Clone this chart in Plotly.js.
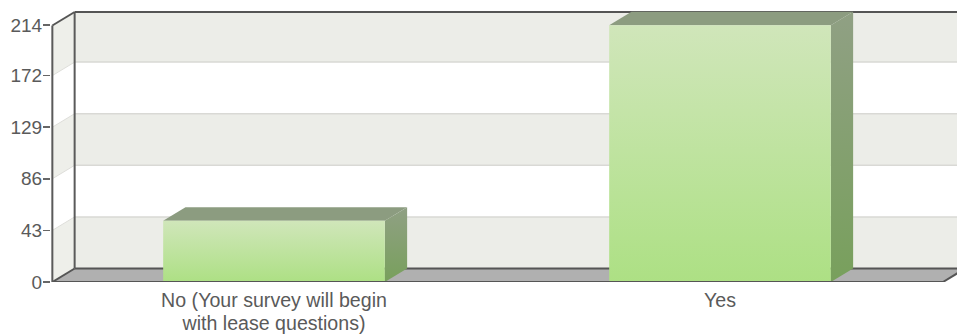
<!DOCTYPE html>
<html>
<head>
<meta charset="utf-8">
<script src="https://cdn.plot.ly/plotly-3.0.1.min.js"></script>
<style>html,body{margin:0;padding:0;background:#fff}#chart{width:957px;height:336px}</style>
</head>
<body>
<div id="chart"></div>
<script>
const categories = ['No (Your survey will begin<br>with lease questions)', 'Yes'];
const values = [51, 214];
const tickValues = [0, 43, 86, 129, 172, 214];
const bandStops = [0, 43, 86, 129, 172, 225];

// Pseudo-3D depth of the plot box and bars, in axis units
const depthX = 0.05;
const depthY = 11.25;
const barWidth = 0.497;
const xStart = -0.497;
const xEnd = 1.5;
const xMax = 1.5314;
const yMax = 228.333;
const wallTop = 225;
const axisTop = wallTop - depthY;

const poly = pts => 'M' + pts.map(p => p[0] + ',' + p[1]).join('L') + 'Z';
const fillShape = (pts, color) => ({
  type: 'path', xref: 'x', yref: 'y', layer: 'below',
  path: poly(pts), fillcolor: color, line: {width: 0}
});
const lineShape = (x0, y0, x1, y1, color, width, layer) => ({
  type: 'line', xref: 'x', yref: 'y', layer: layer || 'below',
  x0, y0, x1, y1, line: {color, width}
});

const shapes = [];
const wallLeft = xStart + depthX;

// Floor
shapes.push(fillShape([[xStart, 0], [xEnd, 0], [xEnd + depthX, depthY], [wallLeft, depthY]], '#b0b0b0'));

// Back wall and left wall, alternating bands from the bottom up
bandStops.slice(0, -1).forEach((lo, i) => {
  const hi = bandStops[i + 1];
  const topFront = Math.min(hi, axisTop);
  if (i % 2 === 0) {
    shapes.push(fillShape([[wallLeft, lo + depthY], [xMax, lo + depthY], [xMax, hi === 225 ? wallTop : hi + depthY], [wallLeft, hi === 225 ? wallTop : hi + depthY]], '#ecede8'));
    shapes.push(fillShape([[xStart, lo], [wallLeft, lo + depthY], [wallLeft, hi === 225 ? wallTop : hi + depthY], [xStart, topFront]], '#eeefea'));
  }
});
tickValues.slice(1, -1).forEach(v => {
  shapes.push(lineShape(wallLeft, v + depthY, xMax, v + depthY, '#d9d9d5', 1.5));
  shapes.push(lineShape(xStart, v, wallLeft, v + depthY, '#dededa', 1));
});

// Back edges of the box
shapes.push(lineShape(wallLeft, depthY, xMax, depthY, '#555555', 2));
shapes.push(lineShape(wallLeft, depthY, wallLeft, wallTop, '#5a5a5a', 2));
shapes.push(lineShape(wallLeft, wallTop, xMax, wallTop, '#555555', 2));

// Top and side faces of each bar; the front face is the bar trace itself
const sideIndexes = [];
values.forEach((v, i) => {
  const l = i - barWidth / 2, r = i + barWidth / 2;
  shapes.push(fillShape([[l, v], [r, v], [r + depthX, v + depthY], [l + depthX, v + depthY]], '#8c9c80'));
  sideIndexes.push(shapes.length);
  shapes.push(fillShape([[r, 0], [r + depthX, depthY], [r + depthX, v + depthY], [r, v]], '#84a070'));
});

// Front edges, drawn over the bars
shapes.push(lineShape(xStart, 0, xEnd, 0, '#555555', 2, 'above'));
shapes.push(lineShape(xEnd, 0, xEnd + depthX, depthY, '#555555', 2, 'above'));
shapes.push(lineShape(xStart, 0, wallLeft, depthY, '#555555', 2, 'above'));
shapes.push(lineShape(xStart, 0, xStart, axisTop, '#5a5a5a', 2, 'above'));
shapes.push(lineShape(xStart, axisTop, wallLeft, wallTop, '#555555', 2, 'above'));

const trace = {
  type: 'bar',
  x: categories.map((_, i) => i),
  y: values,
  width: barWidth,
  marker: {color: '#bfe3a0', line: {width: 0}},
  hoverinfo: 'skip'
};

const layout = {
  width: 957, height: 336,
  margin: {l: 51, r: 0, t: 8, b: 54, pad: 0},
  paper_bgcolor: '#fff', plot_bgcolor: 'rgba(0,0,0,0)',
  showlegend: false,
  font: {family: 'Liberation Sans, Arial, sans-serif', size: 13, color: '#5a5a5a'},
  xaxis: {
    type: 'linear', range: [-0.5, xMax], tickmode: 'array',
    tickvals: categories.map((_, i) => i), ticktext: categories,
    showgrid: false, zeroline: false, showline: false,
    ticks: '', ticklabelstandoff: 4, tickangle: 0,
    tickfont: {size: 19.6, color: '#5a5a5a'}
  },
  yaxis: {
    type: 'linear', range: [0, yMax], tickmode: 'array',
    tickvals: tickValues, ticktext: tickValues.map(String),
    showgrid: false, zeroline: false, showline: false,
    ticks: 'outside', ticklen: 7, tickwidth: 1.5, tickcolor: '#666666',
    tickfont: {size: 19, color: '#5a5a5a'}
  },
  shapes: shapes
};

// Vertical gradients for the faces that Plotly can only fill flat
function addGradient(svg, id, top, bottom) {
  const ns = 'http://www.w3.org/2000/svg';
  const defs = svg.querySelector('defs');
  const g = document.createElementNS(ns, 'linearGradient');
  g.setAttribute('id', id);
  g.setAttribute('x1', '0'); g.setAttribute('y1', '0');
  g.setAttribute('x2', '0'); g.setAttribute('y2', '1');
  [[0, top], [1, bottom]].forEach(([o, c]) => {
    const s = document.createElementNS(ns, 'stop');
    s.setAttribute('offset', o);
    s.setAttribute('stop-color', c);
    g.appendChild(s);
  });
  defs.appendChild(g);
}

const gd = document.getElementById('chart');
Plotly.newPlot(gd, [trace], layout, {displayModeBar: false, staticPlot: true}).then(() => {
  const svg = gd.querySelector('.main-svg');
  addGradient(svg, 'barFront', '#d0e6ba', '#ade084');
  addGradient(svg, 'barSide', '#90a084', '#78a05c');
  gd.querySelectorAll('.bars .point path').forEach(p => { p.style.fill = 'url(#barFront)'; });
  sideIndexes.forEach(i => {
    gd.querySelectorAll('.shapelayer path[data-index="' + i + '"]').forEach(p => { p.style.fill = 'url(#barSide)'; });
  });
  // Tighter leading between the two lines of a category label
  gd.querySelectorAll('.xtick text tspan.line').forEach(t => {
    if (parseFloat(t.getAttribute('dy')) > 0) t.setAttribute('dy', '1.17em');
  });
  // Bring the value labels closer to their tick marks
  gd.querySelectorAll('.ytick text').forEach(t => {
    t.setAttribute('x', parseFloat(t.getAttribute('x')) + 3);
  });
});
</script>
</body>
</html>
